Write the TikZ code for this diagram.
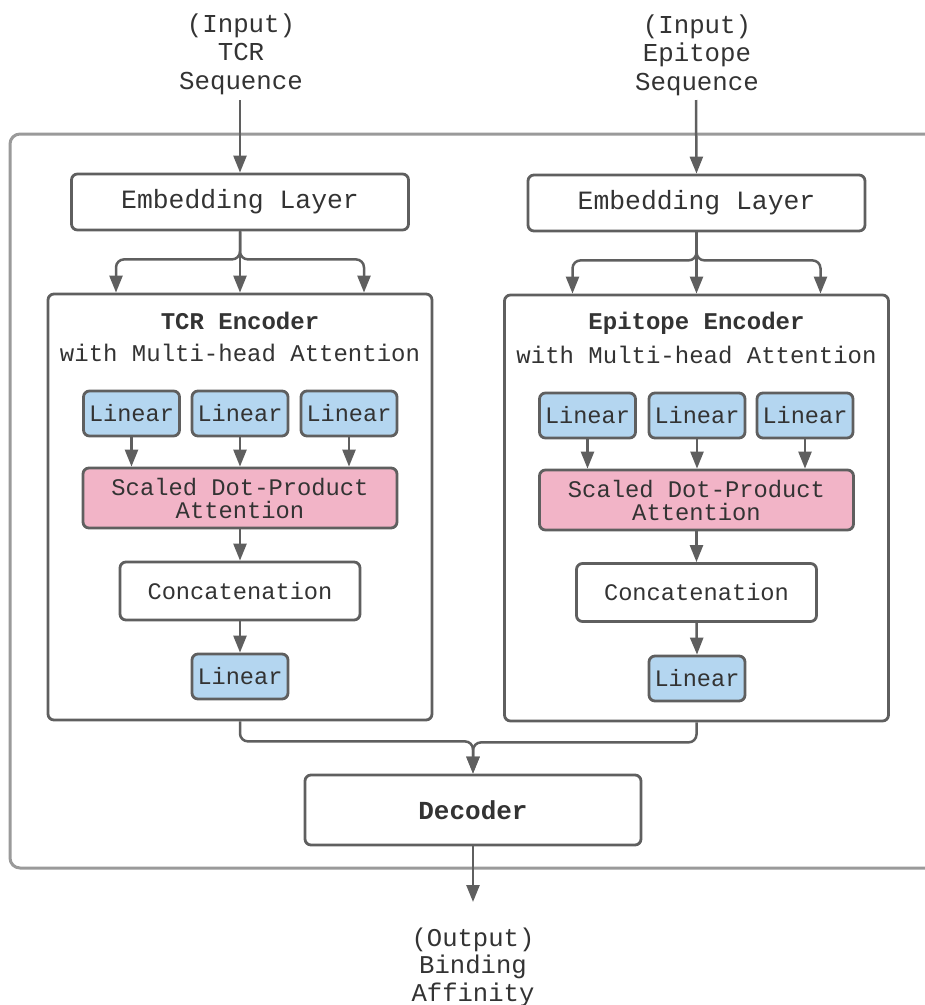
\documentclass[tikz,border=0pt]{standalone}
\usepackage{fontspec}
\setmainfont{Liberation Mono}
\usetikzlibrary{arrows.meta,calc}
\definecolor{edge}{HTML}{5F5F5F}
\definecolor{frame}{HTML}{9A9A9A}
\definecolor{txt}{HTML}{333333}
\definecolor{lblue}{HTML}{B4D6F0}
\definecolor{lpink}{HTML}{F2B4C7}
\tikzset{
  box/.style={draw=edge, line width=2.8pt, rounded corners=6pt, fill=white, inner sep=0pt, text=txt},
  linbox/.style={box, fill=lblue, minimum width=96pt, minimum height=45pt, font=\fontsize{23.6}{27}\selectfont},
  attbox/.style={box, fill=lpink, minimum width=314pt, minimum height=60pt, align=center, font=\fontsize{23.8}{23}\selectfont},
  catbox/.style={box, minimum width=240pt, minimum height=58pt, font=\fontsize{23.7}{27}\selectfont},
  embbox/.style={box, minimum width=337pt, minimum height=56pt, font=\fontsize{26.4}{30}\selectfont},
  encbox/.style={box, minimum width=384pt, minimum height=426pt},
  lbl/.style={align=center, text=txt, font=\fontsize{25.8}{28.5}\selectfont, inner sep=0pt},
  arr/.style={draw=edge, line width=2.5pt, -{Triangle[length=17pt,width=13pt]}},
}
\begin{document}
\begin{tikzpicture}[x=1pt,y=-1pt]
\useasboundingbox (0,0) rectangle (925,1005);
% outer frame
\draw[frame, line width=3pt, rounded corners=10pt] (940,134) -- (10,134) -- (10,868) -- (940,868);

% inputs
\node[lbl] (in1) at (241,54) {(Input)\\TCR\\Sequence};
\node[lbl] (in2) at (697,55) {(Input)\\Epitope\\Sequence};
\coordinate (in1a) at (240,100);
\coordinate (in2a) at (696,100);

% embedding layers
\node[embbox] (emb1) at (240,202) {Embedding Layer};
\node[embbox] (emb2) at (696.5,203) {Embedding Layer};

% encoders
\node[encbox] (enc1) at (240,507) {};
\node[encbox] (enc2) at (696.5,508) {};
\node[text=txt, font=\fontsize{24}{28}\selectfont\bfseries] (t1) at (240,321) {TCR Encoder};
\node[text=txt, font=\fontsize{24}{28}\selectfont] (s1) at (240,353) {with Multi-head Attention};
\node[text=txt, font=\fontsize{24}{28}\selectfont\bfseries] (t2) at (696.5,323) {Epitope Encoder};
\node[text=txt, font=\fontsize{24}{28}\selectfont] (s2) at (696.5,355) {with Multi-head Attention};

% TCR internals
\node[linbox] (l1a) at (131.5,413.5) {Linear};
\node[linbox] (l1b) at (240,413.5) {Linear};
\node[linbox] (l1c) at (349,413.5) {Linear};
\node[attbox] (a1) at (240,498) {Scaled Dot-Product\\Attention};
\node[catbox] (c1) at (240,591) {Concatenation};
\node[linbox] (lo1) at (240,676.5) {Linear};

% Epitope internals
\node[linbox] (l2a) at (587.5,415.5) {Linear};
\node[linbox] (l2b) at (697,415.5) {Linear};
\node[linbox] (l2c) at (805,415.5) {Linear};
\node[attbox] (a2) at (696.5,500) {Scaled Dot-Product\\Attention};
\node[catbox] (c2) at (696.5,592.5) {Concatenation};
\node[linbox] (lo2) at (697,678.5) {Linear};

% decoder
\node[box, minimum width=336pt, minimum height=70pt, font=\fontsize{26}{30}\selectfont\bfseries] (dec) at (473,810) {Decoder};
\node[lbl, font=\fontsize{25.6}{27.5}\selectfont] (out) at (473,967) {(Output)\\Binding\\Affinity};

% connectors: inputs
\draw[arr] (in1a) -- (emb1.north);
\draw[arr] (in2a) -- (emb2.north);

% embedding -> encoder
\draw[arr] (emb1.south) -- (enc1.north);
\draw[arr, rounded corners=8pt] (emb1.south) -- ++(0,28) -| ([xshift=-124pt]enc1.north);
\draw[arr, rounded corners=8pt] (emb1.south) -- ++(0,28) -| ([xshift=124pt]enc1.north);
\draw[arr] (emb2.south) -- (enc2.north);
\draw[arr, rounded corners=8pt] (emb2.south) -- ++(0,28) -| ([xshift=-124pt]enc2.north);
\draw[arr, rounded corners=8pt] (emb2.south) -- ++(0,28) -| ([xshift=124pt]enc2.north);

% internals TCR
\draw[arr] (l1a.south) -- (l1a.south |- a1.north);
\draw[arr] (l1b.south) -- (l1b.south |- a1.north);
\draw[arr] (l1c.south) -- (l1c.south |- a1.north);
\draw[arr] (a1.south) -- (c1.north);
\draw[arr] (c1.south) -- (lo1.north);
% internals Epitope
\draw[arr] (l2a.south) -- (l2a.south |- a2.north);
\draw[arr] (l2b.south) -- (l2b.south |- a2.north);
\draw[arr] (l2c.south) -- (l2c.south |- a2.north);
\draw[arr] (a2.south) -- (c2.north);
\draw[arr] (c2.south) -- (lo2.north);

% encoders -> decoder
\draw[arr, rounded corners=8pt] (enc1.south) -- ++(0,20) -| (dec.north);
\draw[arr, rounded corners=8pt] (enc2.south) -- ++(0,20) -| (dec.north);

% decoder -> output
\coordinate (outa) at (473,902);
\draw[arr] (dec.south) -- (outa);
\end{tikzpicture}
\end{document}
